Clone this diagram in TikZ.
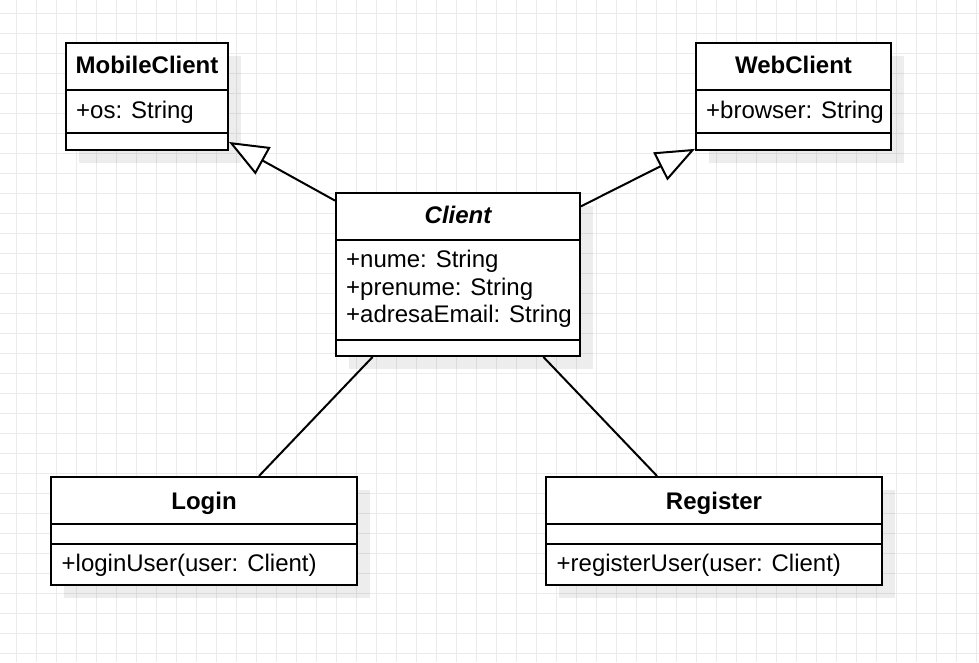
\documentclass[tikz,border=0pt]{standalone}
\usepackage{fontspec}
\setmainfont{Liberation Sans}
\usetikzlibrary{arrows.meta,shadows}
\newcommand\umlsize{\fontsize{24}{28}\selectfont}
\tikzset{
  gridline/.style={draw=black!8, line width=0.8pt},
  umlclass/.style={draw, fill=white, line width=2pt, inner sep=0pt,
    drop shadow={shadow xshift=13pt, shadow yshift=-13pt, fill=black, opacity=0.07}},
  divider/.style={line width=2pt},
  classtitle/.style={font=\umlsize\bfseries, anchor=base, inner sep=0pt},
  member/.style={font=\umlsize, anchor=base west, inner sep=0pt},
  extends/.style={line width=2pt, -{Triangle[length=39pt,width=31pt,fill=white]}},
  assoc/.style={line width=2pt},
}
\begin{document}
\begin{tikzpicture}[x=1pt,y=-1pt]
	\fill[white] (0,0) rectangle (979,662);
	\useasboundingbox (0,0) rectangle (979,662);
	% grid
	\foreach \x in {16.7,36.7,...,976.7} \draw[gridline] (\x,0) -- (\x,662);
	\foreach \y in {13.3,33.3,...,653.3} \draw[gridline] (0,\y) -- (979,\y);

	% classes
	\node[umlclass, minimum width=162pt, minimum height=107pt] (mobile) at (147,96.5) {};
	\node[umlclass, minimum width=195pt, minimum height=107pt] (web) at (793.5,96.5) {};
	\node[umlclass, minimum width=244pt, minimum height=163pt] (client) at (458,274.5) {};
	\node[umlclass, minimum width=306pt, minimum height=108pt] (login) at (204,531) {};
	\node[umlclass, minimum width=336pt, minimum height=108pt] (register) at (714,531) {};

	\draw[divider] (mobile.west |- 0,90) -- (mobile.east |- 0,90);
	\draw[divider] (mobile.west |- 0,132.5) -- (mobile.east |- 0,132.5);
	\draw[divider] (web.west |- 0,90) -- (web.east |- 0,90);
	\draw[divider] (web.west |- 0,132.5) -- (web.east |- 0,132.5);
	\draw[divider] (client.west |- 0,240) -- (client.east |- 0,240);
	\draw[divider] (client.west |- 0,339.5) -- (client.east |- 0,339.5);
	\draw[divider] (login.west |- 0,524.3) -- (login.east |- 0,524.3);
	\draw[divider] (login.west |- 0,543.5) -- (login.east |- 0,543.5);
	\draw[divider] (register.west |- 0,524.3) -- (register.east |- 0,524.3);
	\draw[divider] (register.west |- 0,543.5) -- (register.east |- 0,543.5);

	% texts
	\node[classtitle] (mobiletitle) at (147,73.3) {MobileClient};
	\node[member] (mobileos) at (76,118.3) {+os: String};
	\node[classtitle] (webtitle) at (793.5,73.3) {WebClient};
	\node[member] (webbrowser) at (706,118.3) {+browser: String};
	\node[classtitle, font=\umlsize\bfseries\itshape] (clienttitle) at (458,223.3) {Client};
	\node[member] (clientnume) at (346,267.3) {+nume: String};
	\node[member] (clientprenume) at (346,295) {+prenume: String};
	\node[member] (clientemail) at (346,322.7) {+adresaEmail: String};
	\node[classtitle] (logintitle) at (204,509.3) {Login};
	\node[member] (loginop) at (61.5,571) {+loginUser(user: Client)};
	\node[classtitle] (registertitle) at (714,509.3) {Register};
	\node[member] (registerop) at (556.5,571) {+registerUser(user: Client)};

	% relations
	\draw[extends] (client.149) -- (mobile.-29);
	\draw[extends] (client.29) -- (web.208);
	\draw[assoc] (client.224) -- (login.45);
	\draw[assoc] (client.-44) -- (register.136);
\end{tikzpicture}
\end{document}
